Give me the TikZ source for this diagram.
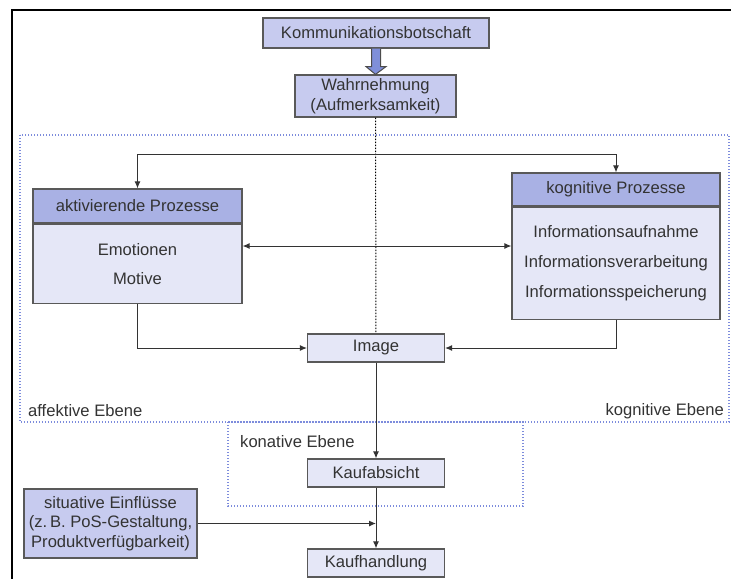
\documentclass[tikz,border=0pt]{standalone}
\usepackage{fontspec}
\setmainfont{Liberation Sans}
\usepackage{tikz}
\usetikzlibrary{arrows.meta}

\definecolor{headfill}{HTML}{A9B1E4}
\definecolor{bodyfill}{HTML}{E5E7F7}
\definecolor{topfill}{HTML}{C7CBEF}
\definecolor{ebeneblue}{HTML}{7D8CDC}
\definecolor{fatblue}{HTML}{7F8FD9}
\definecolor{ink}{HTML}{333333}

\begin{document}
\begin{tikzpicture}[x=1pt, y=-1pt,
			font=\fontsize{16.6}{19.5}\selectfont,
			text=ink,
			box/.style={
				draw=black!65,
				line width=1.2pt,
				fill=bodyfill,
				inner sep=0pt,
				align=center},
			head/.style={box, fill=headfill},
			topbox/.style={box, fill=topfill},
			arr/.style={-{Latex[length=7pt,width=6pt]}, draw=ink, line width=1pt},
			ebene/.style={draw=ebeneblue, line width=1.6pt, dash pattern=on 1.4pt off 1.6pt},
			ebenelabel/.style={inner sep=0pt}]
			\useasboundingbox (0,0) rectangle (731,579);
			\draw[line width=1.5pt] (731,10) -- (12,10) -- (12,579);
			% Ebenen
			\draw[ebene] (20,135) rectangle (729,422);
			\draw[ebene] (228,422) rectangle (523,506);
			\node (affektiv) at (28,411) [ebenelabel, anchor=west] {affektive Ebene};
			\node (kognitiv) at (724,411) [ebenelabel, anchor=east] {kognitive Ebene};
			\node (konativ) at (240,442) [ebenelabel, anchor=west] {konative Ebene};
			% Boxen
			\node (komm) at (376,33) [topbox, minimum width=226pt, minimum height=30pt] {Kommunikationsbotschaft};
			\node (wahr) at (375.5,96) [topbox, minimum width=161pt, minimum height=42pt] {Wahrnehmung\\(Aufmerksamkeit)};
			\node (aktivhead) at (137.5,206) [head, minimum width=209pt, minimum height=34pt] {aktivierende Prozesse};
			\node (aktivbody) at (aktivhead.south) [box, anchor=north, minimum width=209pt, minimum height=79pt] {Emotionen\\[9.5pt]Motive};
			\node (kognhead) at (616,189.5) [head, minimum width=208pt, minimum height=33pt] {kognitive Prozesse};
			\node (kognbody) at (kognhead.south) [box, anchor=north, minimum width=208pt, minimum height=112pt] {Informationsaufnahme\\[10.5pt]Informationsverarbeitung\\[10.5pt]Informationsspeicherung};
			\node (image) at (376,348) [box, minimum width=137pt, minimum height=28pt] {Image};
			\node (kaufabs) at (376,473) [box, minimum width=137pt, minimum height=28pt] {Kaufabsicht};
			\node (kaufh) at (376,563) [box, minimum width=137pt, minimum height=28pt] {Kaufhandlung};
			\node (situ) at (110.5,523.5) [topbox, minimum width=173pt, minimum height=69pt] {situative Einflüsse\\(z.\,B. PoS-Gestaltung,\\Produktverfügbarkeit)};
			% Pfeile
			\draw[fill=fatblue, draw=black!70, line width=1pt]
				([xshift=-4.5pt]komm.south) -- ++(0,18) -- ++(-5.5,0) -- (wahr.north)
				-- ([xshift=10pt, yshift=-18pt]komm.south) -- ++(-5.5,0) -- ([xshift=4.5pt]komm.south);
			\draw[draw=black, line width=1pt, dash pattern=on 1.5pt off 1.5pt] (wahr) -- (image);
			\coordinate (split) at (376,154);
			\coordinate (mid) at (376,246);
			\draw[arr] (split) -| (aktivhead);
			\draw[arr] (split) -| (kognhead);
			\draw[arr, {Latex[length=7pt,width=6pt]}-{Latex[length=7pt,width=6pt]}] (mid -| aktivbody.east) -- (mid -| kognbody.west);
			\draw[arr] (aktivbody) |- (image);
			\draw[arr] (kognbody) |- (image);
			\draw[arr] (image) -- (kaufabs);
			\draw[arr] (kaufabs) -- (kaufh);
			\draw[arr] (situ) -- (situ -| kaufabs);
\end{tikzpicture}
\end{document}
